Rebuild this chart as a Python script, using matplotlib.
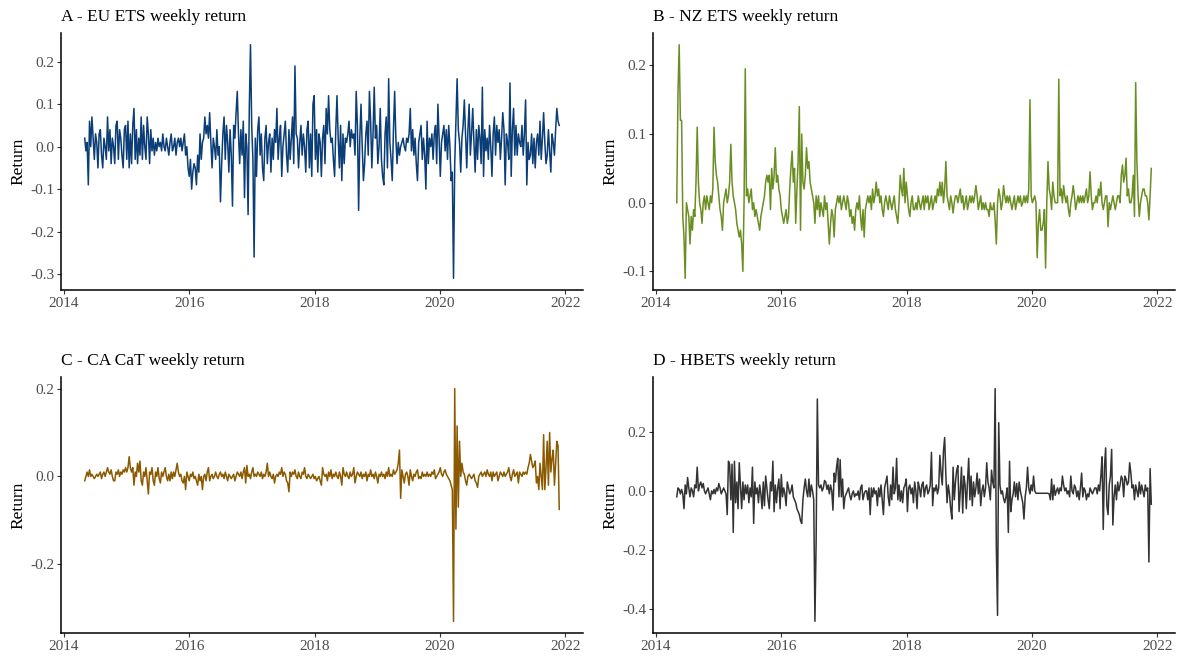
import numpy as np
import pandas as pd
import matplotlib
matplotlib.use("Agg")
import matplotlib.pyplot as plt
import matplotlib.dates as mdates
from matplotlib.ticker import MultipleLocator, FormatStrFormatter

plt.rcParams['font.family'] = ['Liberation Serif', 'DejaVu Serif']
plt.rcParams['axes.unicode_minus'] = False

# weekly returns, in percent, first week of May 2014 onwards
start = "2014-05-02"

eu_pct = [
    2, -1, 1, -9, 6, 0, 7, 2, -3, 3,
    1, -5, 3, 4, -2, -5, 2, 0, -3, 7,
    -1, 4, -4, 2, 0, -4, 5, 6, -3, 4,
    2, -2, -5, 4, 5, -3, 6, -5, 3, -4,
    5, 9, -3, 4, -4, 2, -2, 7, -3, 5,
    0, -3, 7, 3, -4, 4, -1, 2, -2, 1,
    -1, 2, 0, 1, -1, 3, 0, -1, 2, 0,
    -2, 1, 3, -1, 0, 2, -2, 1, 2, 0,
    2, -1, 1, 3, -2, 0, -5, -7, -3, -10,
    -6, -4, -5, -9, -2, -6, 3, -3, 1, 2,
    7, 3, 5, 2, 8, 1, -5, 2, 0, -3,
    4, -2, 0, -13, -4, 3, 7, -3, 5, 1,
    -6, 4, -2, -14, 5, 2, 8, 13, 3, -4,
    4, -2, 6, -12, 3, 0, -16, 9, 24, 5,
    -3, -26, 2, -7, 4, 7, -2, 3, -5, -8,
    2, 5, -4, 1, 3, -6, 2, -3, 4, 1,
    9, -3, 2, 5, -7, 0, 3, 6, -2, -6,
    4, -3, 2, 7, -4, 19, 3, 2, -5, 1,
    5, -2, 3, 0, -6, 4, 6, -5, 3, -7,
    10, 12, -3, 4, -6, 3, 1, -7, 2, 5,
    -4, 9, 3, 12, 4, 1, 2, -3, -7, 4,
    12, 2, -5, 5, -8, 3, -4, 2, 1, 3,
    6, 0, 4, 2, 3, -2, 13, 5, -15, 2,
    10, 0, -8, -4, 3, 6, -2, 13, 6, -5,
    3, 14, 2, 5, -4, 0, 9, -3, -7, -9,
    3, 7, -5, 16, 1, -3, -8, 4, 13, 2,
    -4, 1, -2, 0, 1, 2, 0, -1, 2, 1,
    3, 9, -1, 4, -2, 2, -4, -8, 1, 3,
    5, -3, 2, -2, -10, 6, -4, 2, 0, 3,
    -3, 3, 5, -4, 10, 2, -7, 1, 3, 5,
    -1, 4, -3, 5, 0, -8, -6, -31, -4, 6,
    16, 4, 1, -6, 2, 5, 11, 3, -5, 4,
    10, -2, 3, 9, 1, -6, 4, -3, 5, 2,
    -4, 14, -7, 4, -1, 2, -3, 5, 0, -7,
    3, 7, -2, 5, 1, 4, -3, 2, 8, 4,
    -9, 3, 1, -3, 15, -7, 4, 9, -2, 5,
    -2, 3, 1, 0, 5, -2, 3, 11, -9, 1,
    -3, -2, 3, -4, 2, -5, 1, 3, -2, 6,
    -3, 2, 8, 1, -4, -2, 4, -1, -6, 3,
    1, -2, 4, 9, 6, 5,
]

nz_pct = [
    0, 16, 23, 12, 12, -2, -5, -11, 0, -1,
    -2, -6, -2, -4, -1, -2, 3, 11, 3, 0,
    -1, -3, 0, 1, -1, 1, 0, -1, 1, 0,
    2, 11, 6, 4, 3, 1, -1, -2, -4, 0,
    1, 2, 0, 1, 3, 8.5, 3, 1, 0, -1,
    -3, -4, -5, -4, -6, -10, 0, 19.5, 1, 2,
    0, 1, 2, -1, 0, -2, -1, -2, -3, -4,
    -2, -1, 0, 1, 3, 4, 3, 4, -1, 5,
    2, 4, 8, 3, 4, 2, 1, -1, -2, -3,
    -2, -1, -3, -2, 2, 5, 7.5, 3, 5, -3,
    2, 6, 14, -4, 10, 3, 2, 4, 8, 5,
    6, 3, 2, 1, 0, -3, 1, -1, 1, -2,
    0, -1, -2, 1, -1, 0, -3, -6, -3, -1,
    -2, -5, -1, 0, 1, 0, 1, -1, 0, 1,
    0, -1, 1, 0, -2, -1, -3, -2, -4, -1,
    0, -1, 1, -2, -4, -1, -5, -1, 0, 1,
    0, 1, -1, 2, 0, 1, 3, 1, 2, 0,
    1, -1, -2, 0, 1, 0, -1, 1, 0, -1,
    0, 1, -1, -2, -3, 0, 4, 2, 1, 5,
    0, 3, 1, -1, -2, 0, 1, -1, -1, 0,
    -1, 1, 0, -1, 0, 1, -1, 1, 0, 1,
    -1, 0, 1, -1, 0, 1, 0, 2, 1, 3,
    1, 3, 0, 2, 6, 1, 0, -1, 1, 0,
    -1.5, 0, 1, 1, 0, 1, 2, 0, 1, -1,
    0, 1, -1, 0, 1, 0, 1, 0, 1, 2.5,
    1, -1, 0, 1, -1, 0, -1, 0, -1, -1,
    -2, 0, -1, -1, 0, -2.5, -6, 0, 2, 1,
    -1, 0, 2.5, 1, 0, 1, 0, 1, 0, -1,
    0, 1, -1, 0, 1, 0, 1, -0.5, 0, 1,
    0, 1, 0, 2, 15, 1, 0, 0.5, 1, 0,
    -8, -3, -1, -4, -4, -3, -1, -9.5, 0, 6,
    2, 1, -1, 3, 1, 0, 0, 0, 18, 1,
    2, 0, 2.5, 1, 0, 1, -1, -2, 0, 1,
    2.5, 1, -1, 0, 1, 0, 1, 0, 1, 0,
    1, 2, 0, 1, 4.5, 1, -1, 0, 0, 1,
    0, 2, 1, 3, 0, -1, 0, 1, 1, -3.5,
    0, -1, 0, 1, 0, -1, 0, 1, 1, 0,
    4, 5.5, 3, 4, 6.5, 1, 2, 0, 0, 1,
    4, -2, 17.5, 6, 1, -2, 0, 1, 2, 2,
    1, 1, 0, -2.5, 1, 5,
]

ca_pct = [
    -1, 0, 1, 0, 1.5, 0, 0.5, 0, -0.5, 0,
    0.5, 0, 0.5, 1, -0.5, 0.5, 1, 0, 1, 2,
    1, 0.5, 1.5, 0, -1, -1, 1, 0.5, 1.5, 0,
    1, 0.5, 1.5, 1, 2, 1, 2, 4.5, 2, 1,
    2, -2, 1, 0, 3, 1, 3.5, -1, -2, 1,
    0, 2, -1, -4, 1, 0.5, 2, -1, -2, 1,
    0, 2, -0.5, -1.5, 1, 0, 1, 2, 0, -1,
    0.5, -1, 1, -0.5, 1, 0, 1.5, 3, 1, 0,
    0.5, -1, -1.5, 0, -3, 1, 0, -1, 0.5, 0,
    1, -0.5, 0, -1, -2, 0.5, -1, 0, -3, 0,
    0.5, -1, 1, 2, -1, 0, 0.5, -0.5, 0, 1,
    0, -0.5, 0.5, 1, 0, 0.5, -0.5, 1, 0, -1,
    0.5, 0, -0.5, 0, 0.5, -1, 0, 1, 0.5, 0,
    1, -0.5, 1, 2, -1.5, 2.5, 0, 0.5, -0.5, 1,
    2, 0, 0.5, 0, 1, 0.5, 0, 1, -0.5, 0.5,
    0, 1, 3, 0, 1, 0, -0.5, 0.5, -1.5, 0,
    0.5, 0, 1, 0.5, 2, 0, 1, 0.5, -1, -1.5,
    -3.5, 1, 0, 1, 0.5, 1.5, 0, -0.5, 1, 0,
    -0.5, 1, 0.5, 2, 0, -0.5, 0.5, 0, -0.5, 0,
    0.5, -0.5, 0, -1, -0.5, 0, -1, -2, 2, 0.5,
    0, 0.5, -1, 1, 0, 1.5, -0.5, 0.5, 0, 1,
    0, -0.5, 1, 0, -2, 2, 0.5, 0, 1, 0,
    -0.5, 1, 0, 0.5, 2, -1.5, 0, 1, 0.5, 0,
    1, -0.5, 0.5, 0, 1, -1, 0.5, 0, 1.5, 0,
    0.5, -0.5, 1, 0, -1.5, 0.5, 0, 1, 0, 0.5,
    -0.5, 1, 0, 2, 0, 0.5, 0, 1.5, 0.5, 1,
    1.5, 3, 6, -5, 1.5, 0, -1.5, 0.5, 1, 0,
    -2, 1.5, 0, -1, 0.5, 0, 1, 1.5, -0.5, 0,
    -0.5, 1, 0, 0.5, 0, 1, 0, 0.5, 0, 1,
    0.5, 1.5, -0.5, 0, 0.5, 1, 2, 0.5, 0, 1,
    1.5, 0.5, 0, -0.5, -1, -2, -3, -33, 20, -12,
    11.5, -7, 8, 0, 3, 1, 0.5, -1, -2, 0,
    0.5, 0, -0.5, 0, 0.5, -1, -1.5, -2.5, 0, 0.5,
    1, 0, 0.5, 1, 0, 1.5, 0.5, 0, 1, -1,
    1, 0, 0.5, 1, -1, 0, 1, 0.5, 0, 1,
    0, 0.5, 1, 2, 0, -1, 0.5, 1.5, 0, 0.5,
    1, -1.5, 1, 0.5, 0, 1, 0.5, 1, 0.5, 2,
    3, 5, 3.5, 2, 2.5, 3.5, -1.5, 0, -3, 3,
    0, -3, 9.5, -3, 2, 8, -2, 10, 1, 4,
    6, -2, 3, 8, 7, -7.5,
]

hb_pct = [
    -2, 1, 0.5, -1, 0.5, -1, -6, 2, -1, 4.5,
    1, -2, 1, 0, -2, 2, 1, 8, 0, 2,
    3, 1, 2.5, 0, -1, 0, 1, -1, -3, 0,
    -1, 0.5, -1, 1, 0, 2.5, 1, -1, 0, 1,
    0, -1, -8, 10, 9, -3, 9, -14, 10, -4,
    3, -6, 9.5, 2, -6, 3, -3, 2, -1, 2,
    -4, 1, -2, 8, -11, 3, -1, 1, -4, 2,
    -1, -6, 3, -5, 5, 1, -3, -6, 3, 0,
    10, -7, 2, -4, 1, 4, -6, 5.5, -2, 1,
    -1, -5, 3, 1, -1, 0, 2, -2, -3, -4,
    -6, -7, -8, -10, -11, -3, 1, 4, 0, -2,
    4, -2, 2, 0, -3, -44, -17, 31, 2, 1,
    2, 0, 1, 3.5, 3, 0.5, 2, -1, 2, 0,
    -6.5, 6, 3, 8, 11, -2, 10.5, -2, 4, -6,
    -2, -1, 0, 1, -1.5, -3, -1, 0, -2, -1,
    -1.5, 0, -3, 1, 2, -3, -1, 0, 0, -3,
    1, -8, 1, -2, 1, -1, 0, -5, 1, -2,
    2, -3, -8, 1, 3, 5, -2, -5, 2, -3,
    8, -1, 1, 11, -3, 2, -3.5, 0, -4, 1,
    2, 4, -7, 1, 2, -1, 1, -4, 3, 0,
    -6, 3, 1, -2, 2, 3, -2, 1, 2, -1,
    0, 2, 13, -5, 1, 0, 2, -1, 1, 12,
    6, 2, 13.5, 18, 5, -4, 2, -1, -6, -9.5,
    8, -3, 3, 7, 8.5, -7, 0, 8, -7.5, 5,
    2, -6, 3, 11, -3, 5, -5, 3, -2, 1,
    6, -1, 4, -5, 0, 2, -2, 1, 9.5, 3,
    1, -3, 7, 3, 1, 34.5, -19, -42, 23, 2,
    -1, 0, -2.5, -4, -2, 1, -14, 10, -7, -3,
    -1, 3, -2, 2.5, -3, 3, 0, -2, -4, -9.5,
    -2, 1, 8, 1, -1, 2, 0, 5, 0, -0.8,
    -0.8, -0.8, -0.8, -0.8, -0.8, -0.8, -0.8, -0.8, -0.8, -0.8,
    -1, -3, 4, -3, 2, -1.5, 0, 1, -1, 1,
    0, 5, 2, 0, 1, -1, 0, -2, 5, 0,
    -1, 2, 1, -2, 0, -3, 1, 6, -2, 1,
    0, -3, -1, -2, 1, 0, -1, 0, 1, 1,
    -1, 2, 0, 5, 11.5, -13, 8, 14.5, -5, -8,
    2, 5, 14, -11.5, -2, 2, -3, 3, 0, 2,
    5, 4, -2, 5, 4, 2, 3, 9.5, 6, 1,
    2, -3, 2, 0, -2, 3, -1, 2, 0, -2,
    2, 0, 1, -24, 7.5, -4.5,
]

series = [eu_pct, nz_pct, ca_pct, hb_pct]
titles = ["A - EU ETS weekly return", "B - NZ ETS weekly return",
          "C - CA CaT weekly return", "D - HBETS weekly return"]
colors = ["#0B3D76", "#6B8E23", "#8B5A00", "#333333"]
ysteps = [0.1, 0.1, 0.2, 0.2]

fig = plt.figure(figsize=(11.82, 6.61), dpi=100)
positions = [(0.0516, 0.5613, 0.4416, 0.3887), (0.5525, 0.5613, 0.4416, 0.3887),
             (0.0516, 0.0424, 0.4416, 0.3873), (0.5525, 0.0424, 0.4416, 0.3873)]

for k in range(4):
    ax = fig.add_axes(positions[k])
    vals = np.array(series[k]) / 100.0
    dates = pd.date_range(start, periods=len(vals), freq="7D")
    ax.plot(dates, vals, color=colors[k], lw=1.1)
    ax.margins(x=0.05, y=0.05)
    ax.xaxis.set_major_locator(mdates.YearLocator(2))
    ax.xaxis.set_major_formatter(mdates.DateFormatter("%Y"))
    ax.yaxis.set_major_locator(MultipleLocator(ysteps[k]))
    ax.yaxis.set_major_formatter(FormatStrFormatter("%.1f"))
    for s in ["top", "right"]:
        ax.spines[s].set_visible(False)
    for s in ["left", "bottom"]:
        ax.spines[s].set_linewidth(1.1)
        ax.spines[s].set_color("black")
    ax.tick_params(axis="both", length=2.75, width=0.8, color="#333333",
                   labelsize=11, labelcolor="#4D4D4D", pad=2.2)
    ax.set_title(titles[k], loc="left", fontsize=12.5, pad=8.5)
    ax.set_ylabel("Return", fontsize=12.5)
    ax.yaxis.set_label_coords(-0.066, 0.5)

fig.savefig("out.png", dpi=100)
